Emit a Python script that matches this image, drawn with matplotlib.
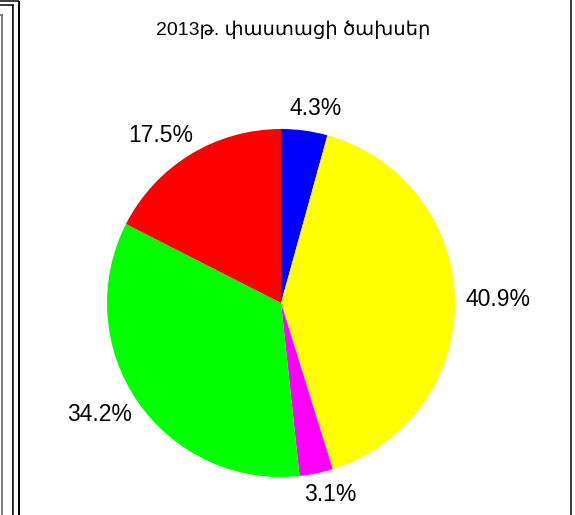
import numpy as np
import matplotlib
matplotlib.use('Agg')
import matplotlib.pyplot as plt
from matplotlib.lines import Line2D

plt.rcParams['font.family'] = ['Liberation Sans', 'DejaVu Sans']

# Data
title = '2013թ. փաստացի ծախսեր'
shares = [4.3, 40.9, 3.1, 34.2, 17.5]
colors = ['#0000ff', '#ffff00', '#ff00ff', '#00ff00', '#ff0000']

W, H = 575, 515
fig = plt.figure(figsize=(W / 100, H / 100), dpi=100)
fig.patch.set_facecolor('white')


def px(x, y):
    # pixel coords (top-left origin) -> figure fraction
    return x / W, 1 - y / H


def seg(x0, y0, x1, y1, color, lw):
    a, b = px(x0, y0)
    c, d = px(x1, y1)
    fig.add_artist(Line2D([a, c], [b, d], color=color, lw=lw * 0.72,
                          transform=fig.transFigure, solid_capstyle='butt'))


# window frames behind / around the chart
seg(2, 15, 2, H, '#808080', 2)
seg(0, 15, 3, 15, '#808080', 2)
seg(12, 4.5, 12, H, '#808080', 1)
seg(13.5, 4.5, 13.5, H, 'black', 1.5)
seg(0, 4.5, 14, 4.5, 'black', 1.5)
seg(18.5, 0.5, 18.5, H, 'black', 2)
seg(0, 0.5, 19, 0.5, 'black', 1.5)
seg(571, 0, 571, H, 'black', 1.5)

fig.text(293 / W, 1 - 30 / H, title, ha='center', va='center', fontsize=14)

# pie: center (281, 303) px, radius 174 px
cx, cy, r = 281, 303, 174
ax = fig.add_axes([(cx - r) / W, (H - cy - r) / H, 2 * r / W, 2 * r / H])
wedges, _ = ax.pie(shares, colors=colors, startangle=90, counterclock=False,
                   radius=1, wedgeprops=dict(linewidth=0))
ax.set_xlim(-1, 1)
ax.set_ylim(-1, 1)
ax.set_aspect('equal')
ax.axis('off')

fig.canvas.draw()
renderer = fig.canvas.get_renderer()
k = 1.06
for w, v in zip(wedges, shares):
    ang = np.deg2rad((w.theta1 + w.theta2) / 2)
    t = ax.text(0, 0, f'{v}%', ha='center', va='center', fontsize=16.5)
    bb = t.get_window_extent(renderer)
    tw, th = bb.width / r, bb.height / r
    c, s = np.cos(ang), np.sin(ang)
    x = k * c + tw / 2 * np.sign(c) * np.sqrt(abs(c))
    y = k * s + th / 2 * s
    t.set_position((x, y))

fig.savefig('out.png', dpi=100)
